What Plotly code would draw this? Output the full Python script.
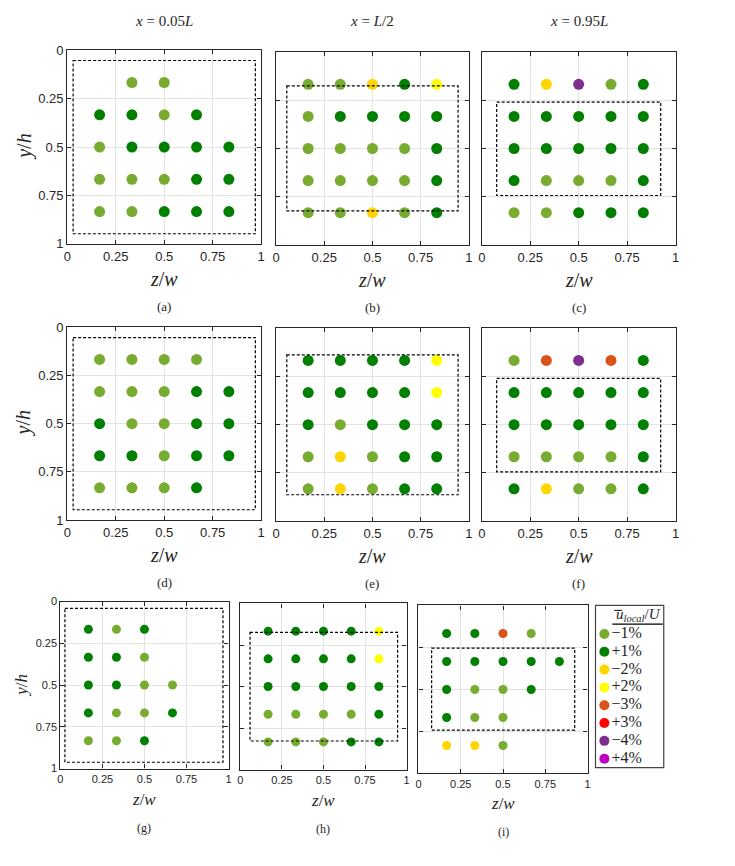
import plotly.graph_objects as go

W, H = 735, 866

# probe positions (normalised)
z_pos = [1/6, 2/6, 3/6, 4/6, 5/6]
y_pos = [1/6, 2/6, 3/6, 4/6, 5/6]

# local velocity deviation in % (rows: y/h from top, cols: z/w); None = no probe
panel_a = [[None, -1, -1, None, None], [1, 1, -1, 1, None], [-1, 1, 1, 1, 1], [-1, -1, -1, 1, 1], [-1, -1, 1, 1, 1]]
panel_b = [[-1, -1, -2, 1, 2], [-1, 1, 1, 1, 1], [-1, -1, -1, -1, 1], [-1, -1, -1, -1, 1], [-1, -1, -2, -1, 1]]
panel_c = [[1, -2, -4, -1, 1], [1, 1, 1, 1, 1], [1, 1, 1, 1, 1], [1, -1, -1, -1, 1], [-1, -1, 1, 1, 1]]
panel_d = [[-1, -1, -1, -1, None], [-1, -1, -1, 1, 1], [1, -1, -1, 1, 1], [1, 1, -1, 1, 1], [-1, -1, -1, 1, None]]
panel_e = [[1, 1, 1, 1, 2], [1, 1, 1, 1, 2], [1, -1, 1, 1, 1], [-1, -2, -1, 1, 1], [-1, -2, -1, 1, 1]]
panel_f = [[-1, -3, -4, -3, 1], [1, 1, 1, 1, 1], [1, 1, 1, 1, 1], [-1, -1, -1, -1, 1], [1, -2, -1, -1, 1]]
panel_g = [[1, -1, 1, None, None], [1, 1, -1, None, None], [1, 1, -1, -1, None], [1, -1, -1, 1, None], [-1, -1, 1, None, None]]
panel_h = [[1, 1, 1, 1, 2], [1, 1, 1, 1, 2], [1, 1, 1, 1, 1], [-1, -1, -1, -1, 1], [-1, -1, -1, 1, 1]]
panel_i = [[1, 1, -3, -1, None], [1, 1, 1, 1, 1], [1, -1, -1, 1, None], [1, -1, -1, None, None], [-2, -2, -1, None, None]]

# dashed box extents [z0, z1, y0, y1]
box_a = [0.03, 0.97, 0.053, 0.948]
box_b = [0.056, 0.944, 0.175, 0.824]
box_c = [0.077, 0.923, 0.259, 0.744]
box_d = [0.03, 0.97, 0.053, 0.947]
box_e = [0.056, 0.944, 0.138, 0.864]
box_f = [0.077, 0.923, 0.26, 0.745]
box_g = [0.027, 0.967, 0.041, 0.962]
box_h = [0.058, 0.946, 0.174, 0.828]
box_i = [0.078, 0.924, 0.254, 0.742]

panel_labels = ["(a)", "(b)", "(c)", "(d)", "(e)", "(f)", "(g)", "(h)", "(i)"]
column_titles = ["<i>x</i> = 0.05<i>L</i>", "<i>x</i> = <i>L</i>/2", "<i>x</i> = 0.95<i>L</i>"]
tick_vals = [0, 0.25, 0.5, 0.75, 1]
tick_text = ["0", "0.25", "0.5", "0.75", "1"]

legend_values = [-1, 1, -2, 2, -3, 3, -4, 4]
legend_labels = ["−1%", "+1%", "−2%", "+2%", "−3%", "+3%", "−4%", "+4%"]
color_map = {-1: "#77AC30", 1: "#007F00", -2: "#FFD500", 2: "#FFFF00",
             -3: "#D95319", 3: "#FF0000", -4: "#7E2F8E", 4: "#BF00BF"}

panels = [panel_a, panel_b, panel_c, panel_d, panel_e, panel_f, panel_g, panel_h, panel_i]
boxes = [box_a, box_b, box_c, box_d, box_e, box_f, box_g, box_h, box_i]

# pixel layout: (left, right, top, bottom)
rects = [(64, 260, 44, 241), (275, 470, 46, 242), (483, 679, 46, 242),
         (64, 260, 326, 522), (275, 470, 327, 523), (483, 679, 327, 523),
         (57, 227, 605, 775), (239, 407, 607, 776), (419, 590, 609, 780)]

def px_x(p):
    return p / W

def px_y(p):
    return 1 - p / H

fig = go.Figure()
shapes = []
annotations = []
FRAME = "#262626"
SERIF = "Liberation Serif"

def note(text, x, y, size, angle=0, family=SERIF):
    return dict(text=text, xref="paper", yref="paper", x=px_x(x), y=px_y(y),
                xanchor="center", yanchor="middle", showarrow=False, textangle=angle,
                font=dict(family=family, size=size, color=FRAME))

for k, (grid, box, r) in enumerate(zip(panels, boxes, rects)):
    idx = "" if k == 0 else str(k + 1)
    xs, ys, cs = [], [], []
    for i, row in enumerate(grid):
        for j, v in enumerate(row):
            if v is None:
                continue
            xs.append(z_pos[j]); ys.append(y_pos[i]); cs.append(color_map[v])
    small = k >= 6
    fig.add_trace(go.Scatter(x=xs, y=ys, mode="markers", xaxis="x" + idx, yaxis="y" + idx,
                             marker=dict(color=cs, size=9 if small else 11, line=dict(width=0)),
                             showlegend=False, hoverinfo="skip"))
    l, rr, t, b = r
    tf = 11 if small else 13
    common = dict(tickvals=tick_vals, ticktext=tick_text, showgrid=True,
                  gridcolor="#E3E3E3", gridwidth=1, zeroline=False, showline=True,
                  linecolor=FRAME, linewidth=1.2, mirror="ticks", ticks="inside",
                  ticklen=4, tickcolor=FRAME, tickwidth=1,
                  tickfont=dict(family="Liberation Sans", size=tf, color=FRAME))
    xa = dict(common); xa.update(domain=[px_x(l), px_x(rr)], range=[0, 1], anchor="y" + idx)
    ya = dict(common); ya.update(domain=[px_y(b), px_y(t)], range=[1, 0], anchor="x" + idx,
                                 showticklabels=(k % 3 == 0))
    fig.update_layout(**{"xaxis" + idx: xa, "yaxis" + idx: ya})
    shapes.append(dict(type="rect", xref="x" + idx, yref="y" + idx,
                       x0=box[0], x1=box[1], y0=box[2], y1=box[3],
                       line=dict(color="black", width=1.2, dash="3px,2px"), layer="above"))
    cx = (l + rr) / 2
    annotations.append(note("<i>z</i>/<i>w</i>", cx, b + (31 if small else 36), 17 if small else 20))
    annotations.append(note(panel_labels[k], cx, b + (60 if small else 64), 12 if small else 13))
    if k % 3 == 0:
        annotations.append(note("<i>y</i>/<i>h</i>", 17 if small else 20, (t + b) / 2,
                                17 if small else 20, angle=-90))

for c, title in enumerate(column_titles):
    l, rr, t, b = rects[c]
    annotations.append(note(title, (l + rr) / 2, 14, 15))

# legend drawn on its own axes
fig.add_trace(go.Scatter(x=[0.13] * len(legend_values), y=list(range(len(legend_values))),
                         mode="markers+text", xaxis="x10", yaxis="y10",
                         marker=dict(color=[color_map[v] for v in legend_values], size=10, line=dict(width=0)),
                         text=legend_labels, textposition="middle right",
                         textfont=dict(family=SERIF, size=16, color=FRAME),
                         showlegend=False, hoverinfo="skip"))
fig.update_layout(
    xaxis10=dict(domain=[px_x(598), px_x(667)], range=[0, 1], visible=False, anchor="y10"),
    yaxis10=dict(domain=[px_y(774), px_y(609)], range=[7.5, -1.6], visible=False, anchor="x10"),
)
shapes.append(dict(type="rect", xref="paper", yref="paper", x0=px_x(598), x1=px_x(667),
                   y0=px_y(774), y1=px_y(609), line=dict(color="#444444", width=1.2)))
shapes.append(dict(type="line", xref="paper", yref="paper", x0=px_x(615), x1=px_x(666),
                   y0=px_y(628), y1=px_y(628), line=dict(color="black", width=1.2)))
# overline on u
shapes.append(dict(type="line", xref="paper", yref="paper", x0=px_x(617), x1=px_x(625),
                   y0=px_y(614), y1=px_y(614), line=dict(color="black", width=1)))
annotations.append(note("<i>u</i><sub><i>local</i></sub>/<i>U</i>", 641, 619, 15))

fig.update_layout(width=W, height=H, margin=dict(l=0, r=0, t=0, b=0),
                  paper_bgcolor="white", plot_bgcolor="white",
                  shapes=shapes, annotations=annotations)

fig.write_html("out.html")
